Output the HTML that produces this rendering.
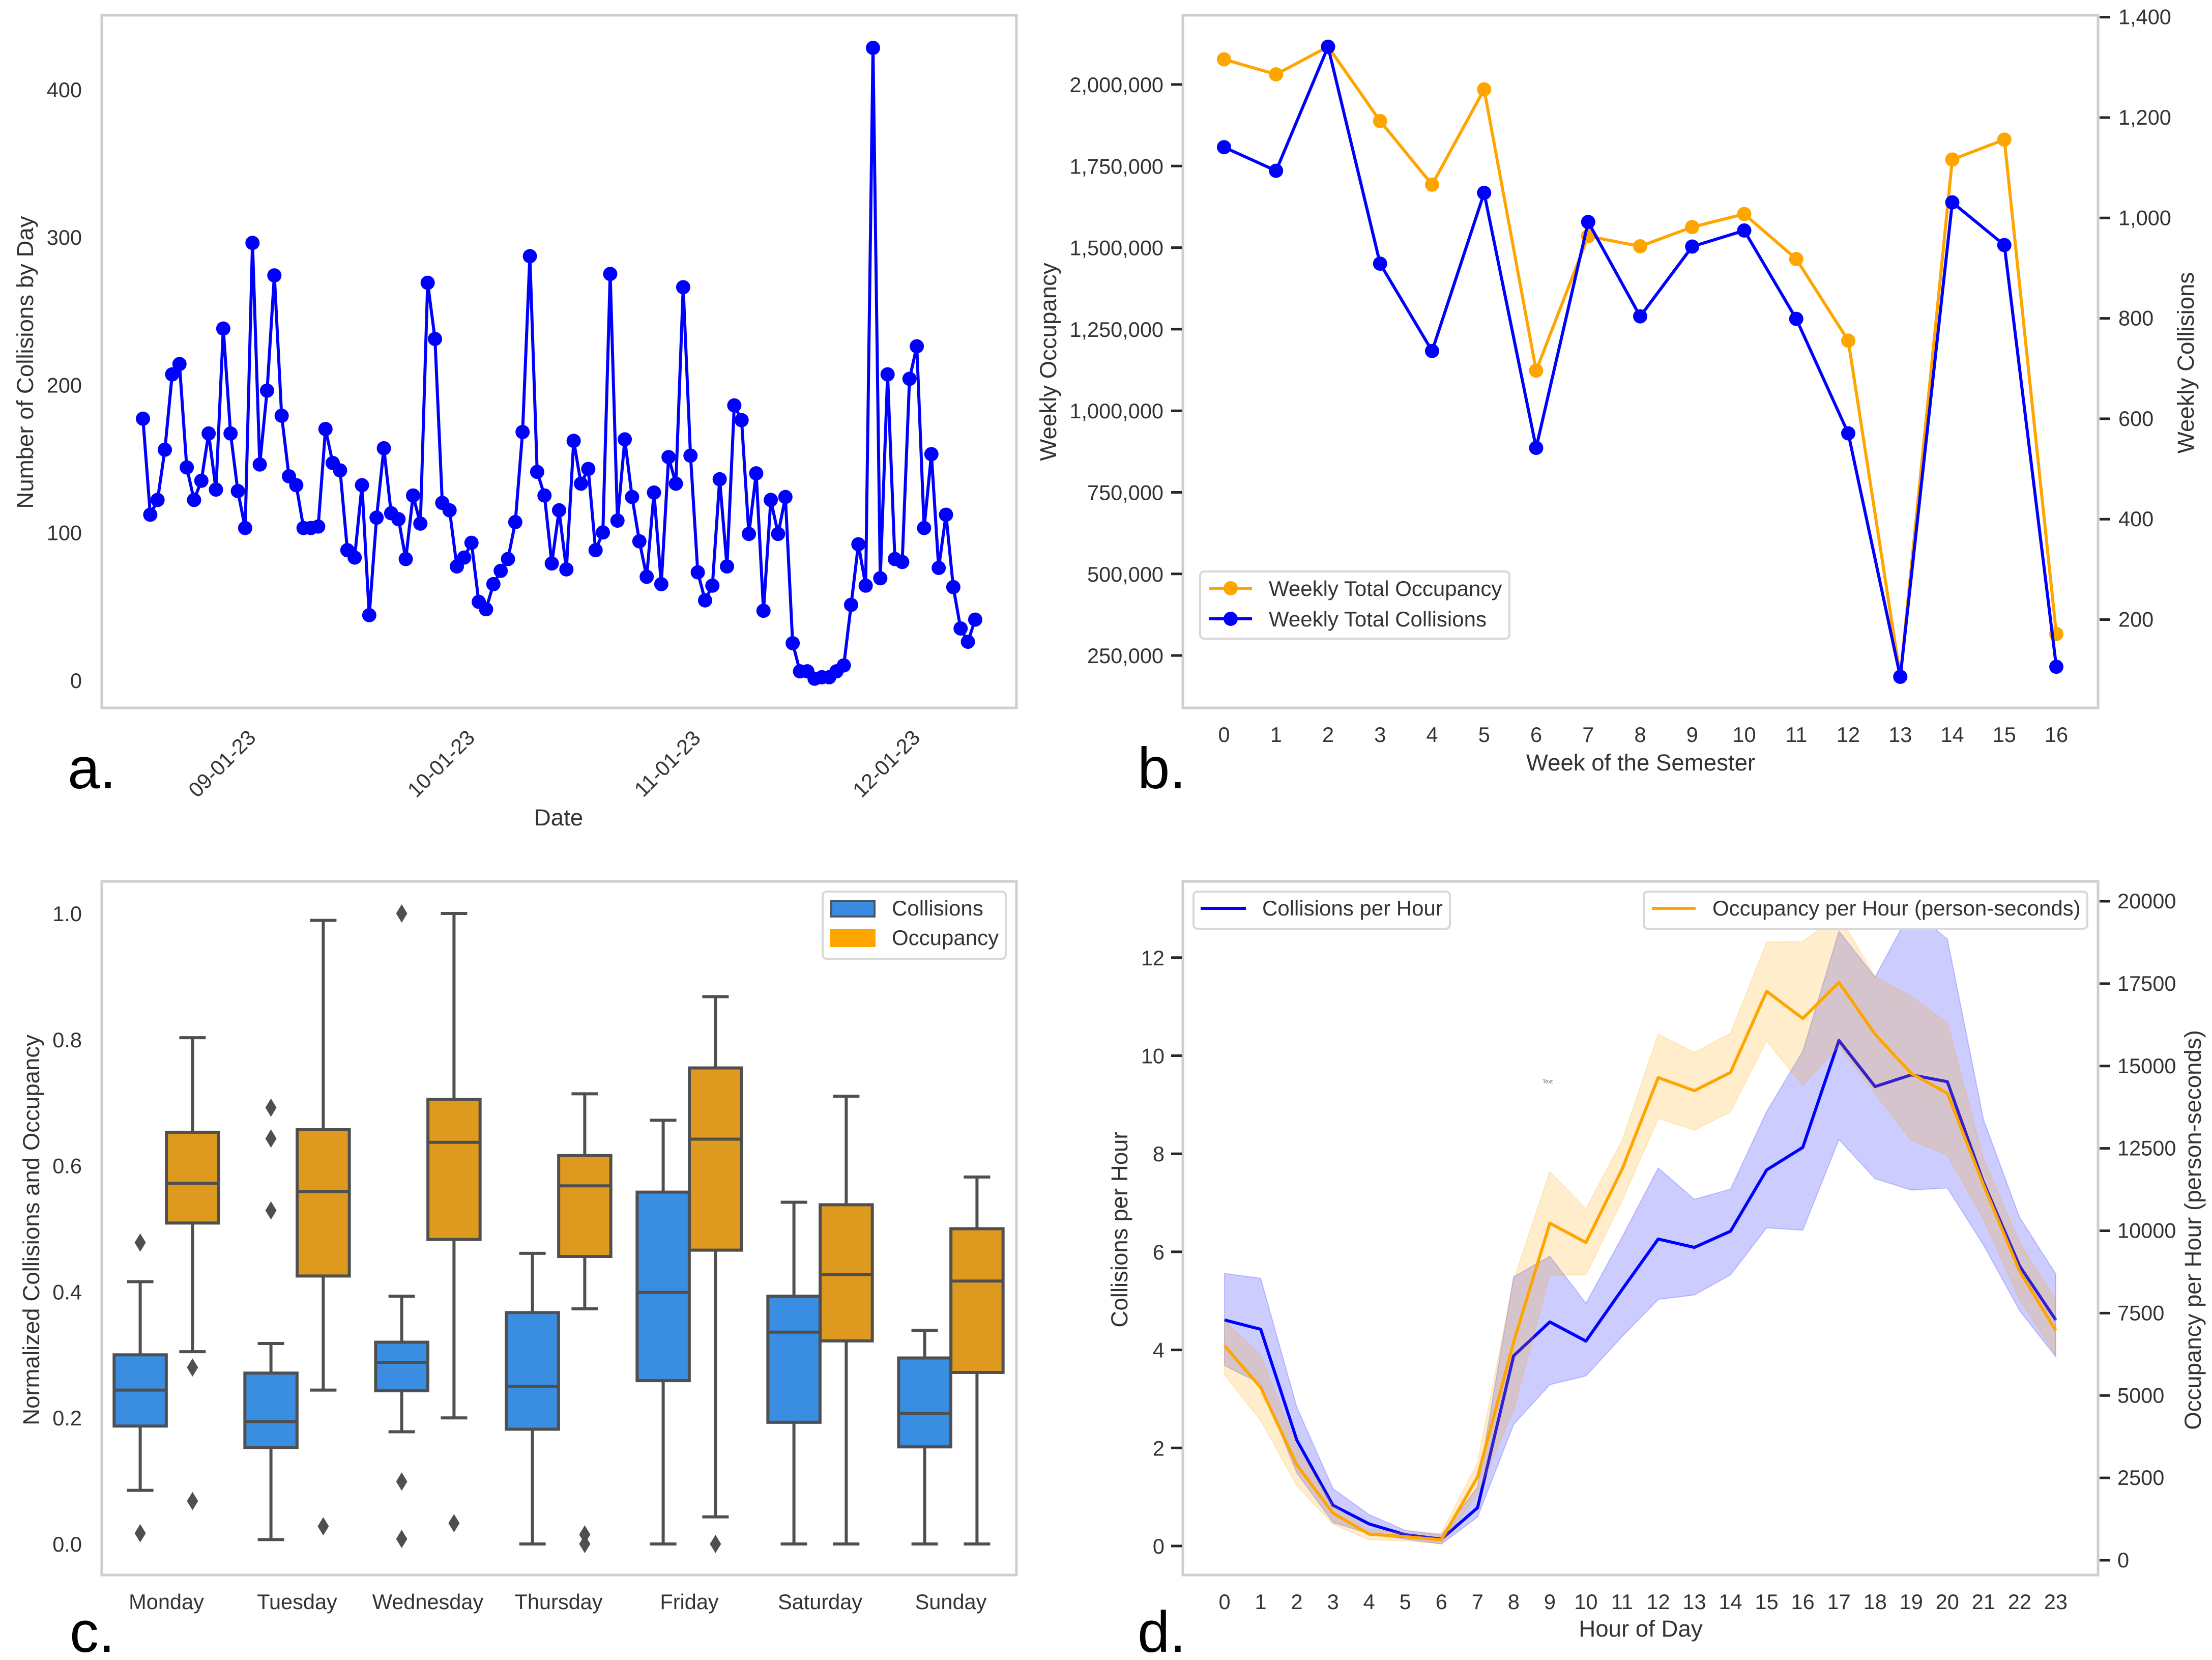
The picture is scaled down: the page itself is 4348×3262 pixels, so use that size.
<!DOCTYPE html>
<html lang="en">
<head>
<meta charset="utf-8">
<title>Collisions and occupancy figure</title>
<style>
html,body{margin:0;padding:0;background:#fff;}
svg{display:block;font-family:"Liberation Sans",Arial,sans-serif;}
.frame{fill:none;stroke:#cecece;stroke-width:5;}
.legend-box{fill:#fff;stroke:#d8d8d8;stroke-width:4;}
.axis-title{font-size:45.6px;fill:#333;text-anchor:middle;}
.legend-text{font-size:42px;fill:#333;}
.panel-letter{font-size:114px;fill:#000;}
</style>
</head>
<body>
<svg id="fig" xmlns="http://www.w3.org/2000/svg" width="4348" height="3262" viewBox="0 0 4348 3262">
  <rect x="0" y="0" width="4348" height="3262" fill="#fff"/>

  <g id="panelA">
    <rect class="frame" x="200" y="30" width="1798" height="1361"/>
    <text class="axis-title" transform="translate(49 712) rotate(-90)" y="16">Number of Collisions by Day</text>
    <text class="axis-title" x="1098" y="1622">Date</text>
    <text class="panel-letter" x="133" y="1549">a.</text>
  </g>

  <g id="panelB">
    <rect class="frame" x="2325" y="30" width="1799" height="1361"/>
    <text class="axis-title" transform="translate(2060 711) rotate(-90)" y="16">Weekly Occupancy</text>
    <text class="axis-title" transform="translate(4296 713) rotate(-90)" y="16">Weekly Collisions</text>
    <text class="axis-title" x="3225" y="1514">Week of the Semester</text>
    <text class="panel-letter" x="2236" y="1549">b.</text>
  </g>

  <g id="panelC">
    <rect class="frame" x="200" y="1732" width="1798" height="1363"/>
    <text class="axis-title" transform="translate(61 2417) rotate(-90)" y="16">Normalized Collisions and Occupancy</text>
    <text class="panel-letter" x="137" y="3246">c.</text>
  </g>

  <g id="panelD">
    <rect class="frame" x="2325" y="1732" width="1799" height="1363"/>
    <text class="axis-title" transform="translate(2200 2416) rotate(-90)" y="16">Collisions per Hour</text>
    <text class="axis-title" transform="translate(4310 2417) rotate(-90)" y="16">Occupancy per Hour (person-seconds)</text>
    <text class="axis-title" x="3225" y="3216">Hour of Day</text>
    <text class="panel-letter" x="2236" y="3246">d.</text>
    <text x="3042" y="2129" font-size="11" fill="#666" text-anchor="middle">Text</text>
  </g>

  <g id="legends">
    <g>
      <rect class="legend-box" x="2359" y="1123" width="608" height="132" rx="8"/>
      <g>
        <line x1="2377" y1="1156" x2="2461" y2="1156" stroke="#ffa500" stroke-width="6"/>
        <circle cx="2419" cy="1156" r="14" fill="#ffa500"/>
        <text class="legend-text" x="2494" y="1171">Weekly Total Occupancy</text>
      </g>
      <g>
        <line x1="2377" y1="1216" x2="2461" y2="1216" stroke="#0000ff" stroke-width="6"/>
        <circle cx="2419" cy="1216" r="14" fill="#0000ff"/>
        <text class="legend-text" x="2494" y="1231">Weekly Total Collisions</text>
      </g>
    </g>
    <g>
      <rect class="legend-box" x="1617" y="1752" width="360" height="132" rx="8"/>
      <g>
        <rect x="1634" y="1771" width="85" height="30" fill="#398ce2" stroke="#4f5560" stroke-width="4"/>
        <text class="legend-text" x="1753" y="1799">Collisions</text>
      </g>
      <g>
        <rect x="1631" y="1826" width="90" height="35" fill="#ffa500"/>
        <text class="legend-text" x="1753" y="1857">Occupancy</text>
      </g>
    </g>
    <g>
      <rect class="legend-box" x="2346" y="1752" width="504" height="73" rx="8"/>
      <line x1="2360" y1="1785" x2="2449" y2="1785" stroke="#0000ff" stroke-width="6"/>
      <text class="legend-text" x="2481" y="1799">Collisions per Hour</text>
    </g>
    <g>
      <rect class="legend-box" x="3231" y="1752" width="872" height="73" rx="8"/>
      <line x1="3247" y1="1785" x2="3333" y2="1785" stroke="#ffa500" stroke-width="6"/>
      <text class="legend-text" x="3366" y="1799">Occupancy per Hour (person-seconds)</text>
    </g>
  </g>
</svg>

<script>
// ===== Panel a data =====
const dailyCollisions = [178,113,123,157,208,215,145,123,136,168,130,239,168,129,104,297,147,197,275,180,139,133,104,104,105,171,148,143,89,84,133,45,111,158,114,110,83,126,107,270,232,121,116,78,84,94,54,49,66,75,83,108,169,288,142,126,80,116,76,163,134,144,89,101,276,109,164,125,95,71,128,66,152,134,267,153,74,55,65,137,78,187,177,100,141,48,123,100,125,26,7,7,2,3,3,7,11,52,93,65,429,70,208,83,81,205,227,104,154,77,113,64,36,27,42];
const dailyTickDays = [11,41,72,102];
const dailyTickLabels = ['09-01-23','10-01-23','11-01-23','12-01-23'];
const dailyYTicks = [0,100,200,300,400];

// ===== Panel b data =====
const weeks = [0,1,2,3,4,5,6,7,8,9,10,11,12,13,14,15,16];
const weeklyOccupancy = [2077000,2031000,2116000,1888000,1693000,1985000,1123000,1535000,1504000,1563000,1603000,1465000,1215000,185000,1770000,1831000,316000];
const weeklyCollisions = [1141,1094,1341,909,735,1050,542,992,804,943,975,799,571,86,1031,946,106];
const weeklyOccTicks = [250000,500000,750000,1000000,1250000,1500000,1750000,2000000];
const weeklyColTicks = [200,400,600,800,1000,1200,1400];

// ===== Panel c data =====
const weekdays = ['Monday','Tuesday','Wednesday','Thursday','Friday','Saturday','Sunday'];
const colLow = [0.085,0.007,0.178,0,0,0,0];
const colQ1 = [0.187,0.153,0.243,0.182,0.259,0.193,0.154];
const colMed = [0.244,0.194,0.288,0.250,0.399,0.336,0.207];
const colQ3 = [0.300,0.271,0.320,0.367,0.558,0.393,0.295];
const colHigh = [0.416,0.318,0.393,0.461,0.672,0.542,0.339];
const colFliers = [[0.478,0.017],[0.692,0.643,0.529],[1.0,0.099,0.008],[],[],[],[]];
const occLow = [0.305,0.244,0.200,0.373,0.043,0,0];
const occQ1 = [0.509,0.425,0.483,0.456,0.466,0.322,0.272];
const occMed = [0.572,0.559,0.637,0.568,0.642,0.427,0.417];
const occQ3 = [0.653,0.657,0.705,0.616,0.755,0.538,0.500];
const occHigh = [0.803,0.989,1.0,0.714,0.868,0.710,0.582];
const occFliers = [[0.280,0.068],[0.028],[0.033],[0.015,0],[0],[],[]];
const normTicks = [0,0.2,0.4,0.6,0.8,1.0];

// ===== Panel d data =====
const hours = [0,1,2,3,4,5,6,7,8,9,10,11,12,13,14,15,16,17,18,19,20,21,22,23];
const hourlyCollisions = [4.61,4.42,2.16,0.83,0.45,0.23,0.14,0.78,3.88,4.57,4.18,5.23,6.26,6.09,6.42,7.67,8.13,10.31,9.37,9.61,9.47,7.42,5.71,4.61];
const hourlyColUpper = [5.56,5.46,2.83,1.17,0.64,0.32,0.23,1.2,5.49,5.91,4.95,6.3,7.71,7.07,7.28,8.86,10.09,12.54,11.6,12.97,12.38,8.7,6.7,5.55];
const hourlyColLower = [3.68,3.31,1.49,0.48,0.25,0.14,0.04,0.59,2.48,3.29,3.47,4.27,5.03,5.12,5.53,6.49,6.44,8.29,7.49,7.26,7.3,6.14,4.8,3.86];
const hourlyOccupancy = [6513,5242,2891,1430,794,715,620,2526,6624,10230,9643,11867,14647,14250,14806,17268,16442,17538,15965,14774,14170,11390,8769,6974];
const hourlyOccUpper = [7260,6227,3447,1668,937,826,826,2970,8500,11787,10660,12741,15965,15410,15997,18761,18777,19571,17713,17109,16315,12185,9643,7895];
const hourlyOccLower = [5624,4242,2256,1096,620,588,508,2017,4559,8658,8658,10914,13408,13058,13614,15759,14409,15600,14170,12741,12296,10358,7895,6227];
const hourlyColTicks = [0,2,4,6,8,10,12];
const hourlyOccTicks = [0,2500,5000,7500,10000,12500,15000,17500,20000];

// ===== Axis functions =====
const xA = d => 281 + d * 14.35;
const yA = v => 1339.5 - v * 2.903;
const xB = w => 2406 + w * 102.25;
const yBOcc = v => 166 + (2000000 - v) / 250000 * 160.3;
const yBCol = v => 1217.5 - (v - 200) * 0.9865;
const xC = i => 327 + i * 257;
const yC = v => 3034 - v * 1239;
const xD = h => 2407 + h * 71.04;
const yDCol = v => 3038 - v * 96.35;
const yDOcc = v => 3066 - v * 0.06475;

// ===== Helpers =====
const NS = 'http://www.w3.org/2000/svg';
function add(parent, tag, attrs, text) {
  const node = document.createElementNS(NS, tag);
  for (const k in attrs) node.setAttribute(k, attrs[k]);
  if (text !== undefined) node.textContent = text;
  parent.appendChild(node);
  return node;
}
const fmt = n => n.toLocaleString('en-US');
const pointsOf = (xs, ys) => xs.map((x, i) => x.toFixed(1) + ',' + ys[i].toFixed(1)).join(' ');
const TICK_FILL = '#333';
const TICK_SIZE = 41.5;
const LINE_W = 6;
const MARKER_R = 14;
const tickAttrs = (x, y, anchor) => ({x: x, y: y, 'font-size': TICK_SIZE, fill: TICK_FILL, 'text-anchor': anchor});

const gA = document.getElementById('panelA');
const gB = document.getElementById('panelB');
const gC = document.getElementById('panelC');
const gD = document.getElementById('panelD');

// ===== Panel a =====
dailyYTicks.forEach(v => {
  const el = add(gA, 'text', tickAttrs(161, yA(v) + 12.5, 'end'), String(v));
  
  
});
dailyTickLabels.forEach((lab, i) => {
  const x = xA(dailyTickDays[i]) - 3;
  const el = add(gA, 'text', {x: 0, y: 15, 'font-size': TICK_SIZE, fill: TICK_FILL, 'text-anchor': 'middle', transform: 'translate(' + x + ' 1500) rotate(-45)'}, lab);
  
  
});
const dailyLine = add(gA, 'polyline', {fill: 'none', stroke: '#0000ff', 'stroke-width': LINE_W, 'stroke-linejoin': 'round', points: pointsOf(dailyCollisions.map((v, i) => xA(i)), dailyCollisions.map(yA))});


dailyCollisions.forEach((v, i) => {
  const el = add(gA, 'circle', {cx: xA(i), cy: yA(v), r: MARKER_R, fill: '#0000ff'});
  
  
});

// ===== Panel b =====
weeklyOccTicks.forEach(v => {
  const tick = add(gB, 'line', {x1: 2302, x2: 2323, y1: yBOcc(v), y2: yBOcc(v), stroke: '#262626', 'stroke-width': 5});
  
  
  const el = add(gB, 'text', tickAttrs(2287, yBOcc(v) + 15, 'end'), fmt(v));
  
  
});
weeklyColTicks.forEach(v => {
  const tick = add(gB, 'line', {x1: 4127, x2: 4148, y1: yBCol(v), y2: yBCol(v), stroke: '#262626', 'stroke-width': 5});
  
  
  const el = add(gB, 'text', tickAttrs(4164, yBCol(v) + 14, 'start'), fmt(v));
  
  
});
weeks.forEach(w => {
  const el = add(gB, 'text', tickAttrs(xB(w), 1458, 'middle'), String(w));
  
  
});
const occWeekLine = add(gB, 'polyline', {fill: 'none', stroke: '#ffa500', 'stroke-width': LINE_W, 'stroke-linejoin': 'round', points: pointsOf(weeks.map(xB), weeklyOccupancy.map(yBOcc))});


weeklyOccupancy.forEach((v, i) => {
  const el = add(gB, 'circle', {cx: xB(weeks[i]), cy: yBOcc(v), r: MARKER_R, fill: '#ffa500'});
  
  
});
const colWeekLine = add(gB, 'polyline', {fill: 'none', stroke: '#0000ff', 'stroke-width': LINE_W, 'stroke-linejoin': 'round', points: pointsOf(weeks.map(xB), weeklyCollisions.map(yBCol))});


weeklyCollisions.forEach((v, i) => {
  const el = add(gB, 'circle', {cx: xB(weeks[i]), cy: yBCol(v), r: MARKER_R, fill: '#0000ff'});
  
  
});

// ===== Panel c =====
normTicks.forEach(v => {
  const el = add(gC, 'text', tickAttrs(161, yC(v) + 15, 'end'), v.toFixed(1));
  
  
});
weekdays.forEach((d, i) => {
  const el = add(gC, 'text', tickAttrs(xC(i), 3162, 'middle'), d);
  
  
});
const BOX_STROKE = '#4f4f4f';
const BOX_W = 102.5;
const BOX_LINE = 6;
function drawBox(cx, low, q1, med, q3, high, fliers, fill, series) {
  const box = add(gC, 'g', {});
  
  
  const wLow = add(box, 'line', {x1: cx, x2: cx, y1: yC(low), y2: yC(q1), stroke: BOX_STROKE, 'stroke-width': BOX_LINE});
  
  
  const wHigh = add(box, 'line', {x1: cx, x2: cx, y1: yC(high), y2: yC(q3), stroke: BOX_STROKE, 'stroke-width': BOX_LINE});
  
  
  const capLow = add(box, 'line', {x1: cx - 26, x2: cx + 26, y1: yC(low), y2: yC(low), stroke: BOX_STROKE, 'stroke-width': BOX_LINE});
  
  
  const capHigh = add(box, 'line', {x1: cx - 26, x2: cx + 26, y1: yC(high), y2: yC(high), stroke: BOX_STROKE, 'stroke-width': BOX_LINE});
  
  
  const body = add(box, 'rect', {x: cx - BOX_W / 2, y: yC(q3), width: BOX_W, height: yC(q1) - yC(q3), fill: fill, stroke: BOX_STROKE, 'stroke-width': BOX_LINE});
  
  
  const median = add(box, 'line', {x1: cx - BOX_W / 2, x2: cx + BOX_W / 2, y1: yC(med), y2: yC(med), stroke: BOX_STROKE, 'stroke-width': BOX_LINE});
  
  
  fliers.forEach(v => {
    const y = yC(v);
    const pts = cx + ',' + (y - 18) + ' ' + (cx + 11) + ',' + y + ' ' + cx + ',' + (y + 18) + ' ' + (cx - 11) + ',' + y;
    const fl = add(box, 'polygon', {points: pts, fill: BOX_STROKE});
    
    
  });
}
weekdays.forEach((d, i) => {
  drawBox(xC(i) - 51.4, colLow[i], colQ1[i], colMed[i], colQ3[i], colHigh[i], colFliers[i], '#398ee2', 'collisions-' + d.toLowerCase());
  drawBox(xC(i) + 51.4, occLow[i], occQ1[i], occMed[i], occQ3[i], occHigh[i], occFliers[i], '#de9a1f', 'occupancy-' + d.toLowerCase());
});

// ===== Panel d =====
hourlyColTicks.forEach(v => {
  const tick = add(gD, 'line', {x1: 2302, x2: 2323, y1: yDCol(v), y2: yDCol(v), stroke: '#262626', 'stroke-width': 5});
  
  
  const el = add(gD, 'text', tickAttrs(2289, yDCol(v) + 15, 'end'), String(v));
  
  
});
hourlyOccTicks.forEach(v => {
  const tick = add(gD, 'line', {x1: 4127, x2: 4148, y1: yDOcc(v), y2: yDOcc(v), stroke: '#262626', 'stroke-width': 5});
  
  
  const el = add(gD, 'text', tickAttrs(4162, yDOcc(v) + 14, 'start'), String(v));
  
  
});
hours.forEach(h => {
  const el = add(gD, 'text', tickAttrs(xD(h), 3162, 'middle'), String(h));
  
  
});
const hx = hours.map(xD);
const colBand = add(gD, 'polygon', {points: pointsOf(hx.concat(hx.slice().reverse()), hourlyColUpper.map(yDCol).concat(hourlyColLower.map(yDCol).reverse())), fill: 'rgba(0,0,255,0.2)', stroke: 'rgba(0,0,255,0.2)', 'stroke-width': 2});


const colHourLine = add(gD, 'polyline', {fill: 'none', stroke: '#0000ff', 'stroke-width': LINE_W, 'stroke-linejoin': 'round', points: pointsOf(hx, hourlyCollisions.map(yDCol))});


const occBand = add(gD, 'polygon', {points: pointsOf(hx.concat(hx.slice().reverse()), hourlyOccUpper.map(yDOcc).concat(hourlyOccLower.map(yDOcc).reverse())), fill: 'rgba(255,165,0,0.2)', stroke: 'rgba(255,165,0,0.2)', 'stroke-width': 2});


const occHourLine = add(gD, 'polyline', {fill: 'none', stroke: '#ffa500', 'stroke-width': LINE_W, 'stroke-linejoin': 'round', points: pointsOf(hx, hourlyOccupancy.map(yDOcc))});



// keep legends above the data marks
const fig = document.getElementById('fig');
fig.appendChild(document.getElementById('legends'));
</script>
</body>
</html>
